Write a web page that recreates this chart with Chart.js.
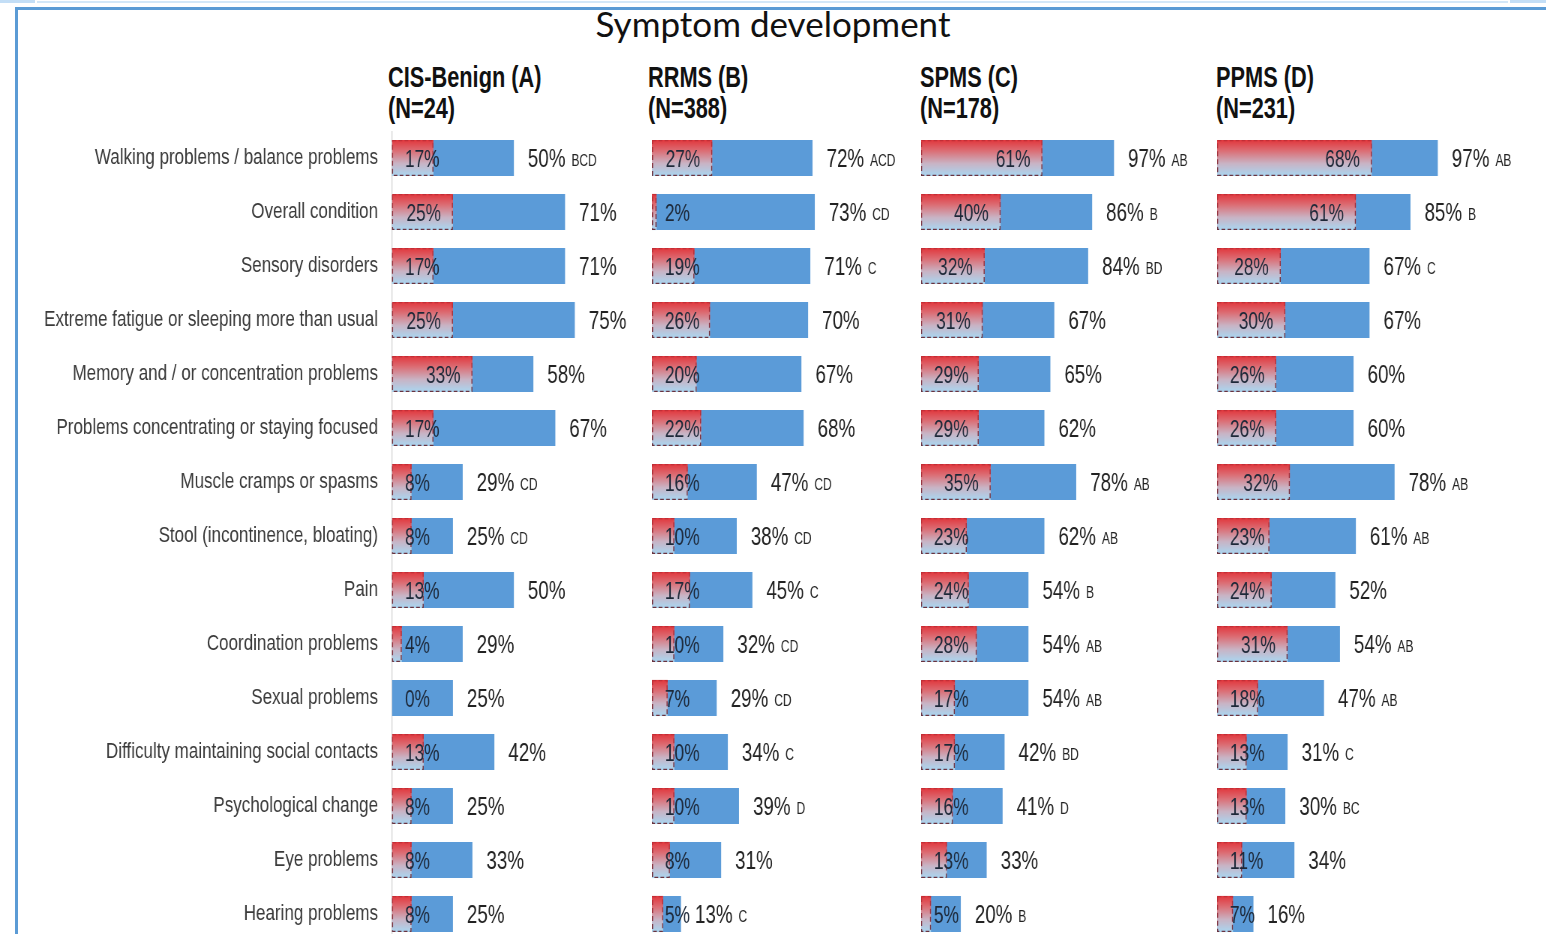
<!DOCTYPE html>
<html>
<head>
<meta charset="utf-8">
<script src="https://cdn.jsdelivr.net/npm/chart.js@4.4.1/dist/chart.umd.min.js"></script>
<style>
  html, body { margin: 0; padding: 0; background: #fff; width: 1546px; height: 934px; overflow: hidden; }
  .strip { position: absolute; background: #c3def6; }
  .frame { position: absolute; left: 15px; top: 7px; width: 1540px; height: 960px;
           border-left: 3px solid #5b9bd5; border-top: 3px solid #5b9bd5; }
  #title { position: absolute; left: 0; width: 1546px; top: 2px; text-align: center;
           font: 35px Lato, "Noto Sans", sans-serif; color: #111; }
  .head { position: absolute; top: 62px; font: bold 29px "Liberation Sans", Arial, sans-serif;
          line-height: 31px; color: #111; white-space: nowrap;
          transform: scaleX(0.75); transform-origin: 0 0; }
  canvas { position: absolute; top: 131px; transform-origin: 0 0; }
</style>
</head>
<body>
<div class="strip" style="left:0;top:0;width:35px;height:3px"></div>
<div class="strip" style="left:37px;top:1px;width:1471px;height:2px;background:#d3e7f8"></div>
<div class="strip" style="left:1510px;top:0;width:36px;height:3px"></div>
<div class="frame"></div>
<div id="title">Symptom development</div>

<canvas id="chartA"></canvas>
<canvas id="chartB"></canvas>
<canvas id="chartC"></canvas>
<canvas id="chartD"></canvas>

<script>
const categories = [
  'Walking problems / balance problems',
  'Overall condition',
  'Sensory disorders',
  'Extreme fatigue or sleeping more than usual',
  'Memory and / or concentration problems',
  'Problems concentrating or staying focused',
  'Muscle cramps or spasms',
  'Stool (incontinence, bloating)',
  'Pain',
  'Coordination problems',
  'Sexual problems',
  'Difficulty maintaining social contacts',
  'Psychological change',
  'Eye problems',
  'Hearing problems'
];

const groupNames = ['CIS-Benign (A)', 'RRMS (B)', 'SPMS (C)', 'PPMS (D)'];
const groupN = ['(N=24)', '(N=388)', '(N=178)', '(N=231)'];

// share that reported the symptom as developing (red) and overall share (blue)
const developA = [17, 25, 17, 25, 33, 17, 8, 8, 13, 4, 0, 13, 8, 8, 8];
const totalA   = [50, 71, 71, 75, 58, 67, 29, 25, 50, 29, 25, 42, 25, 33, 25];
const sigA     = ['BCD', '', '', '', '', '', 'CD', 'CD', '', '', '', '', '', '', ''];

const developB = [27, 2, 19, 26, 20, 22, 16, 10, 17, 10, 7, 10, 10, 8, 5];
const totalB   = [72, 73, 71, 70, 67, 68, 47, 38, 45, 32, 29, 34, 39, 31, 13];
const sigB     = ['ACD', 'CD', 'C', '', '', '', 'CD', 'CD', 'C', 'CD', 'CD', 'C', 'D', '', 'C'];

const developC = [61, 40, 32, 31, 29, 29, 35, 23, 24, 28, 17, 17, 16, 13, 5];
const totalC   = [97, 86, 84, 67, 65, 62, 78, 62, 54, 54, 54, 42, 41, 33, 20];
const sigC     = ['AB', 'B', 'BD', '', '', '', 'AB', 'AB', 'B', 'AB', 'AB', 'BD', 'D', '', 'B'];

const developD = [68, 61, 28, 30, 26, 26, 32, 23, 24, 31, 18, 13, 13, 11, 7];
const totalD   = [97, 85, 67, 67, 60, 60, 78, 61, 52, 54, 47, 31, 30, 34, 16];
const sigD     = ['AB', 'B', 'C', '', '', '', 'AB', 'AB', '', 'AB', 'AB', 'C', 'BC', '', ''];

const FONT = '"Liberation Sans", Arial, sans-serif';
const SQUISH = 0.75;           // canvases are drawn wide and squeezed to get narrow lettering
const sx = v => v / SQUISH;    // screen px -> canvas px (horizontal)
const BAR_PCT = 0.67;
const ROW_H = 54;

// page layout of the four panels (screen px)
const panels = [
  { id: 'chartA', dev: developA, tot: totalA, sig: sigA, left: 0,    right: 646,  barStart: 392,  px100: 244, labels: true },
  { id: 'chartB', dev: developB, tot: totalB, sig: sigB, left: 652,  right: 916,  barStart: 652,  px100: 223 },
  { id: 'chartC', dev: developC, tot: totalC, sig: sigC, left: 921,  right: 1212, barStart: 921,  px100: 199 },
  { id: 'chartD', dev: developD, tot: totalD, sig: sigD, left: 1217, right: 1546, barStart: 1217, px100: 228 }
];
const headX = [388, 648, 920, 1216];

function developFill(ctx) {
  const chart = ctx.chart;
  const ys = chart.scales.y;
  if (!ys || ctx.dataIndex === undefined) return '#d9575c';
  const yc = ys.getPixelForValue(ctx.dataIndex);
  const h = (ys.getPixelForValue(1) - ys.getPixelForValue(0)) * BAR_PCT;
  if (!Number.isFinite(yc) || !Number.isFinite(h) || h <= 0) return '#d9575c';
  const g = chart.ctx.createLinearGradient(0, yc - h / 2, 0, yc + h / 2);
  g.addColorStop(0, '#e1363c');
  g.addColorStop(0.3, '#dc6d74');
  g.addColorStop(0.65, '#c9b3c4');
  g.addColorStop(1, '#a9d7f2');
  return g;
}

// dashed outline round the red bars
const dashOutline = {
  id: 'dashOutline',
  afterDatasetsDraw(chart) {
    const c = chart.ctx;
    const vals = chart.data.datasets[0].data;
    c.save();
    c.setLineDash([5, 3]);
    c.lineWidth = 1.4;
    chart.getDatasetMeta(0).data.forEach((bar, i) => {
      if (!vals[i]) return;
      const { x, y, base, height } = bar.getProps(['x', 'y', 'base', 'height'], true);
      const g = c.createLinearGradient(0, y - height / 2, 0, y + height / 2);
      g.addColorStop(0, '#c42e36');
      g.addColorStop(1, '#683340');
      c.strokeStyle = g;
      c.strokeRect(base + 0.7, y - height / 2 + 0.7, x - base - 1.4, height - 1.4);
    });
    c.restore();
  }
};

// percent labels: inside the red bar, after the blue bar (+ significance letters)
const barLabels = {
  id: 'barLabels',
  afterDatasetsDraw(chart) {
    const c = chart.ctx;
    const dev = chart.data.datasets[0];
    const tot = chart.data.datasets[1];
    c.save();
    c.textAlign = 'left';
    c.textBaseline = 'alphabetic';
    chart.getDatasetMeta(0).data.forEach((bar, i) => {
      const { x, y, base } = bar.getProps(['x', 'y', 'base'], true);
      const txt = dev.data[i] + '%';
      c.font = '23px ' + FONT;
      c.fillStyle = '#1d2838';
      const w = c.measureText(txt).width;
      const lx = Math.max(base + sx(13), x - sx(12) - w);
      c.fillText(txt, lx, y + 9);
    });
    chart.getDatasetMeta(1).data.forEach((bar, i) => {
      const { x, y } = bar.getProps(['x', 'y'], true);
      const txt = tot.data[i] + '%';
      c.font = '25px ' + FONT;
      c.fillStyle = '#222';
      c.fillText(txt, x + sx(14), y + 9);
      const w = c.measureText(txt).width;
      if (tot.sig[i]) {
        c.font = '16px ' + FONT;
        c.fillText(tot.sig[i], x + sx(14) + w + sx(6), y + 8);
      }
    });
    c.restore();
  }
};

function makePanel(p) {
  const canvas = document.getElementById(p.id);
  const axisStart = sx(p.barStart - p.left);
  const width = sx(p.right - p.left);
  const xMax = (p.right - p.barStart) / p.px100 * 100;
  canvas.width = width;
  canvas.height = ROW_H * categories.length;
  new Chart(canvas, {
    type: 'bar',
    data: {
      labels: categories,
      datasets: [
        { label: 'Developed', data: p.dev, backgroundColor: developFill, borderWidth: 0,
          grouped: false, barPercentage: BAR_PCT, categoryPercentage: 1 },
        { label: 'Total', data: p.tot, sig: p.sig, backgroundColor: '#5b9bd8', borderWidth: 0,
          grouped: false, barPercentage: BAR_PCT, categoryPercentage: 1 }
      ]
    },
    options: {
      indexAxis: 'y',
      responsive: false,
      animation: false,
      events: [],
      layout: { padding: 0 },
      plugins: { legend: { display: false }, tooltip: { enabled: false } },
      scales: {
        x: { display: false, min: 0, max: xMax },
        y: {
          display: !!p.labels,
          grid: { display: false },
          border: { display: true, color: '#d4d4d4', width: 1.3 },
          ticks: { autoSkip: false, padding: sx(8), color: '#3a3a3a', font: { family: FONT, size: 22.7 } },
          afterFit(scale) {
            scale.width = axisStart;
            scale.paddingTop = 0;
            scale.paddingBottom = 0;
          }
        }
      }
    },
    plugins: [dashOutline, barLabels]
  });
  canvas.style.left = p.left + 'px';
  canvas.style.transform = 'scaleX(' + SQUISH + ')';
}

groupNames.forEach((name, i) => {
  const d = document.createElement('div');
  d.className = 'head';
  d.style.left = headX[i] + 'px';
  d.innerHTML = name + '<br>' + groupN[i];
  document.body.appendChild(d);
});

panels.forEach(makePanel);
</script>
</body>
</html>
